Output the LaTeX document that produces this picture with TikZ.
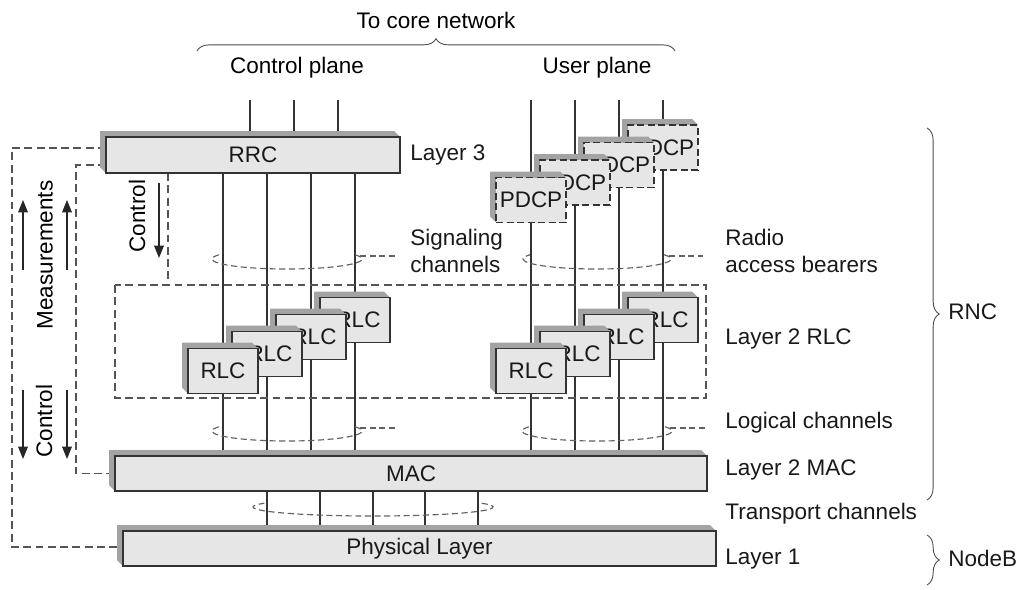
\documentclass[tikz,border=0pt]{standalone}
\usepackage{fontspec}
\setmainfont{Liberation Sans}
\usetikzlibrary{arrows.meta,decorations.pathreplacing}
\pgfdeclarelayer{back}
\pgfsetlayers{back,main}
\definecolor{facegray}{HTML}{E6E6E6}
\definecolor{sidegray}{HTML}{A3A3A3}
\definecolor{inkgray}{HTML}{333333}
\definecolor{dashgray}{HTML}{555555}

\tikzset{
  slab/.style={draw=inkgray, line width=0.7pt, fill=facegray, inner sep=0pt, outer sep=0pt, text=black!90},
  slabside/.style={fill=sidegray},
  dashslab/.style={dash pattern=on 4pt off 2pt},
  sigline/.style={draw=inkgray, line width=0.6pt},
  ctrlline/.style={draw=dashgray, line width=0.6pt, dash pattern=on 4.5pt off 2.5pt},
  bundle/.style={draw=black!62, line width=0.65pt, dash pattern=on 3.5pt off 2pt},
  flow/.style={draw=black!85, line width=0.6pt, -{Triangle[width=5.5pt,length=7pt]}},
  sidetext/.style={anchor=west, align=left, inner sep=0pt, text=black!90},
  curly/.style={draw=black!70, line width=0.5pt, decorate, decoration={brace, amplitude=7pt}}
}

% 3d block: [style]{name}{x}{y}{width}{height}{text}
\newcommand{\slab}[7][]{%
  \fill[slabside] (#3-#5/2,#4+#6/2) -- ++(-6,-6) -- (#3-#5/2-6,#4-#6/2-6)
    -- (#3+#5/2-6,#4-#6/2-6) -- (#3+#5/2,#4-#6/2) -- (#3-#5/2,#4-#6/2) -- cycle;
  \node[slab, minimum width=#5*0.02cm, minimum height=#6*0.02cm, #1] (#2) at (#3,#4) {#7};
}

\begin{document}
\begin{tikzpicture}[x=0.02cm, y=-0.02cm, font=\fontsize{12.8}{15}\selectfont]
  \useasboundingbox (0,0) rectangle (1020,589);

  \node (core) at (436,20) {To core network};
  \draw[curly] (197,51) -- (675,51);
  \node (cplane) at (297,68) {Control plane};
  \node (uplane) at (597,68) {User plane};

  % blocks
  \slab{rrc}{253}{155}{294}{36}{RRC}
  \slab{mac}{411}{473.5}{592}{35}{MAC}
  \slab{phys}{419.5}{548.5}{593}{35}{Physical Layer}
  \foreach \i/\x/\y in {4/663/147.5,3/619/165,2/575/182.5,1/531/200}
    {\slab[dashslab]{pdcp\i}{\x}{\y}{70}{45}{PDCP}}
  \draw[ctrlline] (115,285) rectangle (706,398);
  \foreach \i/\x/\y/\s in {4/355/320/0.12,3/311/337/0.12,2/267/354/0.12,1/223/371/0}
    {\slab{crlc\i}{\x}{\y}{70}{45}{\hspace*{\s cm}RLC}}
  \foreach \i/\x/\y/\s in {4/663/320/0.12,3/619/337/0.12,2/575/354/0.12,1/531/371/0}
    {\slab{urlc\i}{\x}{\y}{70}{45}{\hspace*{\s cm}RLC}}

  \begin{pgfonlayer}{back}
    \foreach \x in {250,294,338} \draw[sigline] (\x,100) -- (rrc.north -| \x,0);
    \foreach \x in {223,267,311,355} \draw[sigline] (rrc.south -| \x,0) -- (mac.north -| \x,0);
    \foreach \x in {531,575,619,663} \draw[sigline] (\x,100) -- (mac.north -| \x,0);
    \foreach \x in {267,320,373,425,478} \draw[sigline] (mac.south -| \x,0) -- (phys.north -| \x,0);
    \draw[ctrlline] (rrc.west |- 0,148) -| (12,547) -- (phys.west |- 0,547);
    \draw[ctrlline] (rrc.west |- 0,165) -| (76,473.5) -- (mac.west);
    \draw[ctrlline] (rrc.south -| 168,0) -- (168,285);
  \end{pgfonlayer}

  % channel bundles
  \draw[bundle] (287,259) ++(-25:75 and 10) arc[start angle=-25, end angle=205, x radius=75, y radius=10];
  \draw[bundle] (360,256) -- (395,256);
  \draw[bundle] (597,259) ++(-25:74 and 10) arc[start angle=-25, end angle=205, x radius=74, y radius=10];
  \draw[bundle] (669,256) -- (703,256);
  \draw[bundle] (287,431) ++(-25:75 and 10) arc[start angle=-25, end angle=205, x radius=75, y radius=10];
  \draw[bundle] (360,428) -- (397,428);
  \draw[bundle] (597,431) ++(-25:75 and 10) arc[start angle=-25, end angle=205, x radius=75, y radius=10];
  \draw[bundle] (670,428) -- (705,428);
  \draw[bundle] (373,507) ++(-25:120 and 9) arc[start angle=-25, end angle=205, x radius=120, y radius=9];

  % control and measurements
  \node[rotate=90] (ctrltop) at (137,216) {Control};
  \draw[flow] (159,183) -- (159,258);
  \node[rotate=90] (meas) at (45,255) {Measurements};
  \draw[flow] (23,270) -- (23,200);
  \draw[flow] (67,270) -- (67,200);
  \node[rotate=90] (ctrlbot) at (44,421) {Control};
  \draw[flow] (23,390) -- (23,459);
  \draw[flow] (67,390) -- (67,459);

  % layer names
  \node[sidetext] (l3) at (410,155) {Layer 3};
  \node[sidetext] (sig) at (410,251) {Signaling\\channels};
  \node[sidetext] (rab) at (725,251) {Radio\\access bearers};
  \node[sidetext] (l2rlc) at (725,339) {Layer 2 RLC};
  \node[sidetext] (logch) at (725,423) {Logical channels};
  \node[sidetext] (l2mac) at (725,470) {Layer 2 MAC};
  \node[sidetext] (trch) at (725,514) {Transport channels};
  \node[sidetext] (l1) at (725,559) {Layer 1};
  \draw[curly] (927,128) -- (927,500);
  \node[sidetext] (rnc) at (948,312) {RNC};
  \draw[curly] (927,535) -- (927,585);
  \node[sidetext] (nodeb) at (948,558) {NodeB};
\end{tikzpicture}
\end{document}
